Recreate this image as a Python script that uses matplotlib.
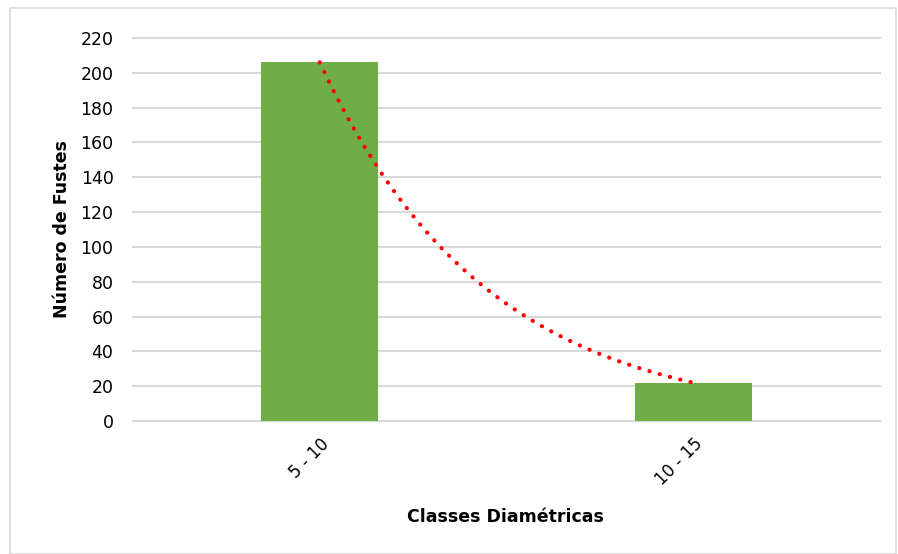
import numpy as np
import matplotlib
matplotlib.use("Agg")
import matplotlib.pyplot as plt
from matplotlib.patches import Rectangle

categories = ["5 - 10", "10 - 15"]
fustes = [206, 22]
y_ticks = list(range(0, 221, 20))

fig = plt.figure(figsize=(8.98, 5.54), dpi=100)
W, H = 898, 554
ax = fig.add_axes([133 / W, 1 - 421 / H, (880 - 133) / W, (421 - 38) / H])

x = np.arange(len(categories))
ax.bar(x, fustes, width=0.313, color="#70ad47", zorder=3)

# exponential trend line fitted to the counts
b, a = np.polyfit(x, np.log(fustes), 1)
xt = np.linspace(x[0], x[-1], 200)
ax.plot(xt, np.exp(a + b * xt), color="#ff0000", lw=3,
        linestyle=(0, (0.05, 2.5)), dash_capstyle="round", zorder=4)

ax.set_xlim(-0.5, 1.5)
ax.set_ylim(0, 220)
ax.set_yticks(y_ticks)
ax.set_xticks(x)
ax.set_xticklabels(categories, rotation=45, ha="right", va="top",
                   rotation_mode="anchor", fontsize=12)
ax.tick_params(axis="y", labelsize=12.5, length=0, pad=14)
ax.tick_params(axis="x", length=0, pad=10)
ax.grid(axis="y", color="#d9d9d9", lw=1.5, zorder=0)
for gl in ax.get_ygridlines():
    gl.set_clip_on(False)
for s in ax.spines.values():
    s.set_visible(False)

ax.set_ylabel("Número de Fustes", fontsize=12.5, fontweight="bold")
ax.yaxis.set_label_coords((71 - 133) / (880 - 133), 0.5)
ax.set_xlabel("Classes Diamétricas", fontsize=12.5, fontweight="bold")
ax.xaxis.set_label_coords((505 - 133) / (880 - 133), -(508 - 421) / (421 - 38))

fig.patches.append(Rectangle((10 / W, 0.5 / H), (896 - 10) / W, (546 - 0.5) / H,
                             transform=fig.transFigure, fill=False,
                             edgecolor="#d9d9d9", lw=1.2))

fig.savefig("out.png", dpi=100)
